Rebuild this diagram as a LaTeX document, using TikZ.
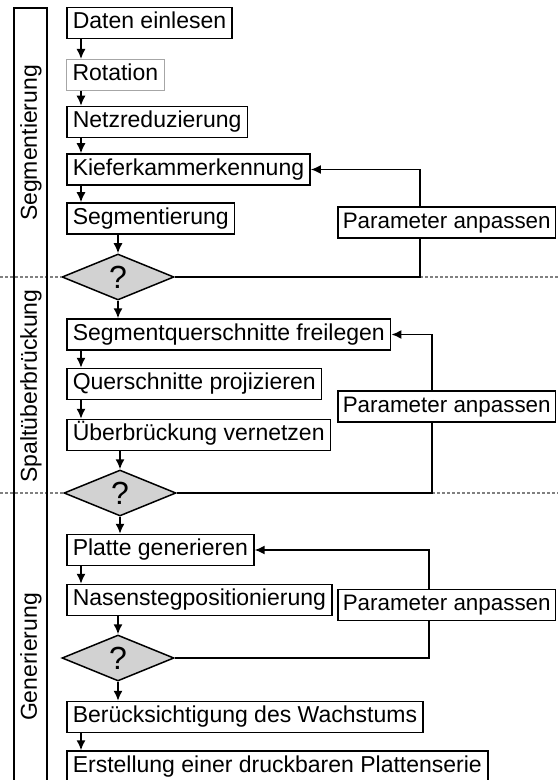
\documentclass[tikz,border=0pt]{standalone}
\usepackage{fontspec}
\setmainfont{Liberation Sans}
\usetikzlibrary{shapes.geometric,arrows.meta}

\begin{document}
\begin{tikzpicture}[x=0.5pt,y=-0.5pt,
  font=\fontsize{11.5}{13}\selectfont,
  schritt/.style={draw, line width=0.75pt, anchor=west, inner xsep=3pt, inner ysep=0pt,
    text height=8.4pt, text depth=2.6pt, minimum height=15.5pt},
  anpass/.style={schritt, fill=white, inner xsep=2.5pt, font=\fontsize{11.2}{13}\selectfont},
  frage/.style={diamond, draw, line width=0.75pt, fill=gray!35, aspect=2.4, inner sep=0pt,
    minimum width=56pt, minimum height=23pt, font=\fontsize{16}{17}\selectfont},
  pfeil/.style={-{Latex[length=5pt,width=4.5pt]}, line width=0.75pt},
  trenn/.style={gray, dash pattern=on 1.5pt off 1pt, line width=0.6pt}]
  \useasboundingbox (0,0) rectangle (558,780);
  \clip (0,0) rectangle (558,780);

  % Schritte
  \node[schritt] (dat) at (66,23) {Daten einlesen};
  \node[schritt, draw=gray!70, line width=0.5pt] (rot) at (66,75) {Rotation};
  \node[schritt] (netz) at (66,122) {Netzreduzierung};
  \node[schritt] (kief) at (66,169.5) {Kieferkammerkennung};
  \node[schritt] (seg) at (66,218.5) {Segmentierung};
  \node[frage] (dia1) at (118,277) {?};

  \node[schritt] (sq) at (66,334.5) {Segmentquerschnitte freilegen};
  \node[schritt] (qp) at (66,384) {Querschnitte projizieren};
  \node[schritt] (ub) at (66,435) {Überbrückung vernetzen};
  \node[frage] (dia2) at (120,493) {?};

  \node[schritt] (pg) at (66,550) {Platte generieren};
  \node[schritt] (nase) at (66,600) {Nasenstegpositionierung};
  \node[frage] (dia3) at (118,658) {?};
  \node[schritt] (ber) at (66,717) {Berücksichtigung des Wachstums};
  \node[schritt] (erst) at (66,766.5) {Erstellung einer druckbaren Plattenserie};

  % Pfeile
  \coordinate (spalte) at (81,0);
  \foreach \a/\b in {dat/rot,rot/netz,netz/kief,kief/seg,sq/qp,qp/ub,pg/nase,ber/erst}
    \draw[pfeil] (\a.south -| spalte) -- (\b.north -| spalte);
  \draw[pfeil] (seg.south -| dia1) -- (dia1.north);
  \draw[pfeil] (dia1.south) -- (dia1.south |- sq.north);
  \draw[pfeil] (ub.south -| dia2) -- (dia2.north);
  \draw[pfeil] (dia2.south) -- (dia2.south |- pg.north);
  \draw[pfeil] (nase.south -| dia3) -- (dia3.north);
  \draw[pfeil] (dia3.south) -- (dia3.south |- ber.north);

  % Schleifen
  \coordinate (k1) at (420,277);
  \coordinate (k2) at (432,493);
  \coordinate (k3) at (429,658);
  \draw[trenn] (0,277) -- (dia1.west);
  \draw[trenn] (k1) -- (558,277);
  \draw[trenn] (0,493) -- (dia2.west);
  \draw[trenn] (k2) -- (558,493);
  \draw[pfeil] (dia1.east) -- (k1) |- (kief.east);
  \draw[pfeil] (dia2.east) -- (k2) |- (sq.east);
  \draw[pfeil] (dia3.east) -- (k3) |- (pg.east);
  \node[anpass] (par1) at (337,222.5) {Parameter anpassen};
  \node[anpass] (par2) at (337,406.5) {Parameter anpassen};
  \node[anpass] (par3) at (337,605) {Parameter anpassen};

  % Abschnitte
  \draw[line width=0.75pt] (14,790) -- (14,8) -- (47,8) -- (47,790);
  \node[rotate=90] (abs1) at (31,143) {Segmentierung};
  \node[rotate=90] (abs2) at (31,386) {Spaltüberbrückung};
  \node[rotate=90] (abs3) at (31,657) {Generierung};
\end{tikzpicture}
\end{document}
